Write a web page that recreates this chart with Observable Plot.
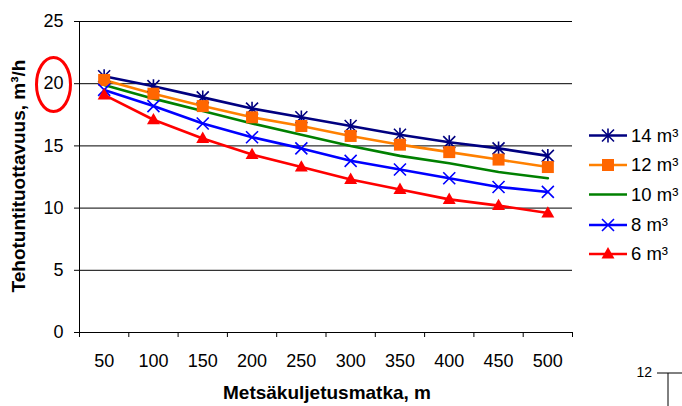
<!DOCTYPE html>
<html>
<head>
<meta charset="utf-8">
<script src="https://cdn.jsdelivr.net/npm/d3@7"></script>
<script src="https://cdn.jsdelivr.net/npm/@observablehq/plot@0.6"></script>
<style>
  html, body { margin: 0; padding: 0; background: white; }
  #chart { width: 682px; height: 406px; }
  #chart g[aria-label$="tick label"], #chart g[aria-label$="tick label"] text { font-size: 18px; }
</style>
</head>
<body>
<div id="chart"></div>
<script>
// ---- data ----
const distances = [50, 100, 150, 200, 250, 300, 350, 400, 450, 500];
const boundaries = [25, 75, 125, 175, 225, 275, 325, 375, 425, 475, 525];
const yTicks = [0, 5, 10, 15, 20, 25];
const seriesNames = ["14 m³", "12 m³", "10 m³", "8 m³", "6 m³"];
const s14 = [20.6, 19.8, 18.9, 18.0, 17.3, 16.6, 15.9, 15.3, 14.8, 14.2];
const s12 = [20.3, 19.2, 18.2, 17.3, 16.6, 15.8, 15.1, 14.5, 13.9, 13.3];
const s10 = [19.9, 18.8, 17.8, 16.8, 15.9, 15.0, 14.2, 13.6, 12.9, 12.4];
const s8  = [19.5, 18.2, 16.8, 15.7, 14.8, 13.8, 13.1, 12.4, 11.7, 11.3];
const s6  = [19.1, 17.1, 15.6, 14.3, 13.3, 12.3, 11.5, 10.7, 10.2, 9.6];
const xTitle = "Metsäkuljetusmatka, m";
const yTitle = "Tehotuntituottavuus, m³/h";

// ---- symbols ----
const rOf = size => Math.sqrt(size / Math.PI);
const starSym = {draw(c, size) { const r = rOf(size);
  c.moveTo(-r, -r); c.lineTo(r, r); c.moveTo(-r, r); c.lineTo(r, -r);
  c.moveTo(0, -r * 1.15); c.lineTo(0, r * 1.15); }};
const squareSym = {draw(c, size) { const r = rOf(size);
  c.moveTo(-r, -r); c.lineTo(r, -r); c.lineTo(r, r); c.lineTo(-r, r); c.closePath(); }};
const timesSym = {draw(c, size) { const r = rOf(size);
  c.moveTo(-r, -r); c.lineTo(r, r); c.moveTo(-r, r); c.lineTo(r, -r); }};
const triSym = {draw(c, size) { const r = rOf(size);
  c.moveTo(0, -r * 1.15); c.lineTo(r * 1.08, r * 0.75); c.lineTo(-r * 1.08, r * 0.75); c.closePath(); }};

const styles = [
  {values: s14, line: "#000080", sym: starSym, fill: "none", stroke: "#000080", r: 6, sw: 1.6},
  {values: s12, line: "#ff8000", sym: squareSym, fill: "#ff6600", stroke: "none", r: 6, sw: 0},
  {values: s10, line: "#008000", sym: null},
  {values: s8,  line: "#0000ff", sym: timesSym, fill: "none", stroke: "#0000ff", r: 6, sw: 1.6},
  {values: s6,  line: "#ff0000", sym: triSym, fill: "#ff0000", stroke: "none", r: 6, sw: 0}
];

const marks = [
  Plot.gridY({ticks: yTicks.slice(1), stroke: "black", strokeOpacity: 1, strokeWidth: 1}),
  Plot.ruleY([0], {stroke: "black"}),
  Plot.ruleX([25], {y1: 0, y2: 25, stroke: "black"}),
  Plot.axisY({ticks: yTicks, tickSize: 5, tickPadding: 11, label: null, fontSize: 18}),
  Plot.axisX({ticks: boundaries, tickSize: 5, tickFormat: () => "", label: null}),
  Plot.axisX({ticks: distances, tickSize: 0, tickPadding: 22, label: null, fontSize: 18, tickFormat: d => String(d)})
];

styles.forEach((st, i) => {
  const rows = distances.map((d, j) => ({d, v: st.values[j], s: seriesNames[i]}));
  marks.push(Plot.line(rows, {x: "d", y: "v", stroke: st.line, strokeWidth: 2.6}));
});
styles.forEach((st, i) => {
  if (!st.sym) return;
  const rows = distances.map((d, j) => ({d, v: st.values[j]}));
  marks.push(Plot.dot(rows, {x: "d", y: "v", symbol: st.sym, r: st.r, fill: st.fill, stroke: st.stroke, strokeWidth: st.sw}));
});

const chart = Plot.plot({
  width: 682, height: 406,
  marginLeft: 79, marginRight: 110, marginTop: 21, marginBottom: 74,
  x: {type: "linear", domain: [25, 525]},
  y: {domain: [0, 25]},
  style: {fontFamily: "'Liberation Sans', Arial, sans-serif", fontSize: "18px", color: "black", background: "white"},
  marks
});
document.getElementById("chart").appendChild(chart);

// ---- titles, legend, annotations ----
const svg = d3.select(chart);
const font = "'Liberation Sans', Arial, sans-serif";
svg.append("text").attr("x", 327).attr("y", 392).attr("dy", "0.35em")
  .attr("text-anchor", "middle").attr("font-family", font).attr("font-size", 19).attr("font-weight", "bold")
  .attr("fill", "black").text(xTitle);
svg.append("text").attr("transform", "translate(18,176) rotate(-90)").attr("dy", "0.35em")
  .attr("text-anchor", "middle").attr("font-family", font).attr("font-size", 19).attr("font-weight", "bold")
  .attr("fill", "black").text(yTitle);

const legY = [135.5, 165, 194.5, 225, 254];
styles.forEach((st, i) => {
  const g = svg.append("g").attr("transform", `translate(0,${legY[i]})`);
  g.append("line").attr("x1", 589).attr("x2", 627).attr("y1", 0).attr("y2", 0)
    .attr("stroke", st.line).attr("stroke-width", 2.6);
  if (st.sym) {
    g.append("path").attr("transform", "translate(608,0)")
      .attr("d", d3.symbol(st.sym, Math.PI * st.r * st.r)())
      .attr("fill", st.fill).attr("stroke", st.stroke).attr("stroke-width", st.sw);
  }
  g.append("text").attr("x", 631).attr("dy", "0.35em").attr("text-anchor", "start")
    .attr("font-family", font).attr("font-size", 18.5).attr("fill", "black").text(seriesNames[i]);
});

// red circle around the "20" label
svg.append("ellipse").attr("cx", 53.5).attr("cy", 84.5).attr("rx", 17).attr("ry", 27)
  .attr("fill", "none").attr("stroke", "#ff0000").attr("stroke-width", 3);

// page fragment at bottom right
svg.append("text").attr("x", 652).attr("y", 377).attr("text-anchor", "end")
  .attr("font-family", font).attr("font-size", 14).attr("fill", "black").text("12");
svg.append("line").attr("x1", 657).attr("x2", 682).attr("y1", 373).attr("y2", 373).attr("stroke", "black");
svg.append("line").attr("x1", 668).attr("x2", 668).attr("y1", 373).attr("y2", 406).attr("stroke", "black");
</script>
</body>
</html>
